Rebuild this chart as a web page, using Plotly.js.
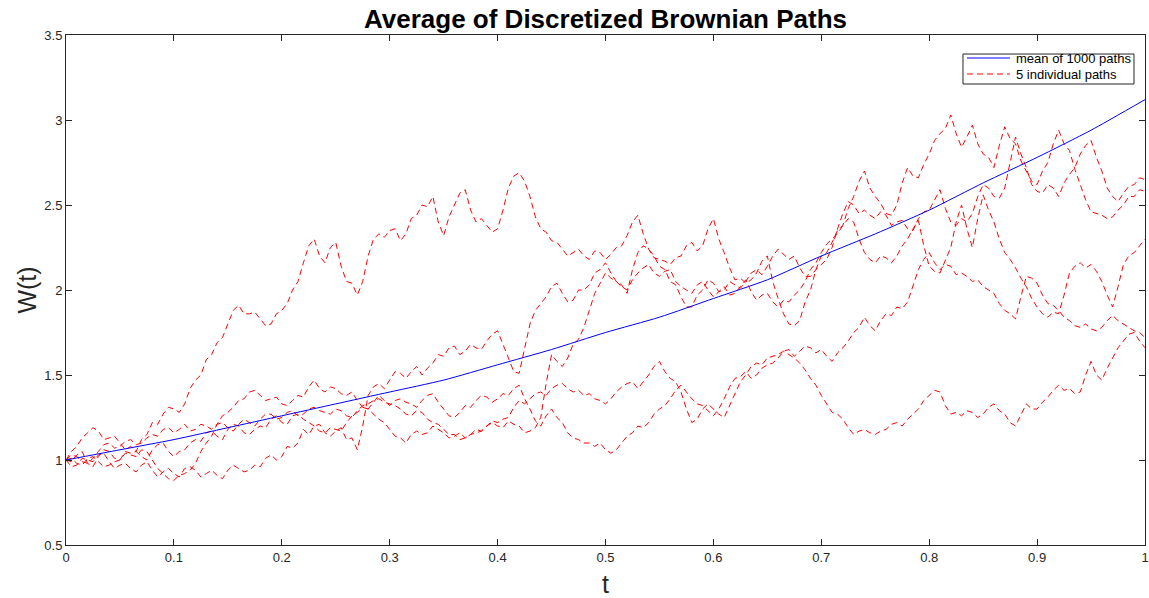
<!DOCTYPE html>
<html>
<head>
<meta charset="utf-8">
<script src="https://cdn.plot.ly/plotly-3.0.1.min.js"></script>
<style>
  html, body { margin: 0; padding: 0; background: #ffffff; }
  #chart { width: 1149px; height: 598px; }
</style>
</head>
<body>
<div id="chart"></div>
<script>
// Five individual Brownian paths W(t), sampled every 0.005 on [0, 1]
const pathA = [
  1.00,0.99,1.03,1.05,0.98,0.96,1.02,1.06,1.05,1.01,1.00,1.05,1.04,1.05,1.12,1.15,1.22,1.21,1.27,1.31,
  1.30,1.28,1.33,1.42,1.47,1.50,1.59,1.62,1.69,1.72,1.80,1.88,1.91,1.86,1.86,1.87,1.83,1.79,1.80,1.86,
  1.88,1.92,2.00,2.05,2.16,2.26,2.30,2.20,2.16,2.25,2.28,2.14,2.05,2.04,1.97,2.05,2.20,2.30,2.33,2.31,
  2.35,2.36,2.29,2.33,2.42,2.44,2.50,2.49,2.55,2.40,2.32,2.43,2.50,2.57,2.59,2.47,2.40,2.42,2.38,2.34,
  2.36,2.47,2.60,2.67,2.69,2.64,2.55,2.43,2.36,2.34,2.29,2.28,2.24,2.20,2.22,2.24,2.20,2.18,2.23,2.22,
  2.18,2.21,2.25,2.26,2.32,2.40,2.44,2.33,2.24,2.19,2.18,2.17,2.15,2.19,2.20,2.26,2.28,2.23,2.26,2.36,
  2.42,2.30,2.22,2.13,2.06,2.07,2.04,2.06,2.10,2.17,2.20,2.05,1.95,1.86,1.80,1.79,1.82,1.93,2.00,2.12,
  2.20,2.22,2.28,2.35,2.38,2.48,2.55,2.64,2.70,2.60,2.55,2.51,2.45,2.44,2.50,2.63,2.72,2.67,2.66,2.74,
  2.80,2.88,2.92,2.95,3.03,2.92,2.84,2.90,2.97,2.86,2.80,2.78,2.72,2.85,2.96,2.89,2.86,2.76,2.70,2.64,
  2.62,2.70,2.75,2.86,2.94,2.86,2.82,2.71,2.62,2.53,2.46,2.45,2.44,2.42,2.43,2.47,2.50,2.55,2.55,2.59,2.58
];
const pathB = [
  1.00,0.96,0.97,1.01,1.00,0.99,1.03,1.04,0.99,0.95,0.97,0.98,0.95,0.93,0.97,0.99,0.94,0.90,0.93,0.95,
  0.92,0.90,0.95,0.96,0.94,0.90,0.92,0.94,0.91,0.89,0.94,0.97,0.95,0.93,0.94,0.97,0.96,1.01,1.03,1.00,
  1.02,1.08,1.07,1.10,1.18,1.15,1.20,1.21,1.16,1.14,1.17,1.19,1.12,1.13,1.06,1.20,1.38,1.43,1.45,1.42,
  1.47,1.52,1.51,1.48,1.52,1.55,1.50,1.54,1.57,1.62,1.61,1.66,1.67,1.62,1.64,1.68,1.66,1.65,1.70,1.74,
  1.76,1.68,1.60,1.52,1.51,1.66,1.80,1.88,1.92,1.96,2.02,2.04,1.98,1.93,1.94,2.00,2.00,2.03,2.10,2.12,
  2.16,2.10,2.05,2.03,1.98,2.12,2.22,2.26,2.24,2.20,2.14,2.12,2.05,2.03,1.96,1.90,1.90,1.97,2.00,2.06,
  2.04,1.99,2.00,2.05,2.03,2.01,2.05,2.10,2.12,2.09,2.14,2.20,2.24,2.21,2.18,2.20,2.13,2.08,2.08,2.12,
  2.15,2.18,2.25,2.36,2.45,2.52,2.50,2.45,2.47,2.44,2.42,2.46,2.44,2.38,2.40,2.41,2.36,2.35,2.42,2.46,
  2.47,2.53,2.59,2.48,2.40,2.38,2.42,2.40,2.45,2.55,2.62,2.60,2.55,2.54,2.60,2.75,2.90,2.80,2.72,2.62,
  2.58,2.57,2.62,2.60,2.55,2.63,2.68,2.72,2.80,2.85,2.88,2.78,2.70,2.60,2.55,2.52,2.57,2.61,2.62,2.66,2.65
];
const pathC = [
  1.00,1.05,1.08,1.13,1.16,1.19,1.17,1.12,1.13,1.14,1.10,1.06,1.08,1.05,1.02,1.00,1.06,1.09,1.10,1.05,
  1.02,1.05,1.06,1.10,1.12,1.11,1.16,1.17,1.14,1.12,1.18,1.21,1.20,1.16,1.15,1.18,1.20,1.19,1.24,1.26,
  1.22,1.21,1.26,1.27,1.24,1.22,1.20,1.17,1.16,1.19,1.18,1.17,1.22,1.26,1.28,1.31,1.30,1.27,1.24,1.22,
  1.18,1.14,1.13,1.10,1.15,1.17,1.15,1.16,1.20,1.18,1.16,1.13,1.14,1.16,1.13,1.15,1.18,1.17,1.20,1.22,
  1.20,1.19,1.23,1.21,1.20,1.16,1.17,1.19,1.25,1.45,1.62,1.58,1.55,1.60,1.68,1.71,1.78,1.88,1.98,2.04,
  2.10,2.07,2.05,2.02,2.00,2.06,2.10,2.13,2.15,2.10,2.08,2.11,2.12,2.05,2.02,2.00,1.98,2.03,2.05,2.00,
  1.96,1.99,2.02,1.97,1.98,2.02,2.06,1.99,1.94,1.97,1.98,1.93,1.90,1.94,1.93,1.97,2.00,2.05,2.12,2.16,
  2.22,2.27,2.30,2.33,2.38,2.42,2.40,2.30,2.22,2.18,2.16,2.20,2.19,2.16,2.20,2.26,2.30,2.36,2.41,2.26,
  2.14,2.11,2.10,2.17,2.25,2.40,2.50,2.36,2.25,2.42,2.56,2.47,2.40,2.30,2.22,2.18,2.13,2.07,2.02,1.95,
  1.90,1.86,1.84,1.87,1.86,1.97,2.10,2.14,2.16,2.13,2.15,2.11,2.05,1.97,1.90,2.02,2.15,2.20,2.22,2.26,2.30
];
const pathD = [
  1.00,1.01,0.98,0.97,1.01,1.02,0.99,0.96,0.97,0.99,1.00,1.04,1.03,1.02,1.06,1.05,1.00,0.95,0.92,0.89,
  0.88,0.91,0.92,0.94,0.98,1.05,1.10,1.14,1.21,1.26,1.28,1.31,1.35,1.36,1.40,1.41,1.38,1.35,1.36,1.37,
  1.33,1.32,1.35,1.38,1.37,1.43,1.47,1.42,1.40,1.43,1.42,1.39,1.38,1.40,1.35,1.31,1.30,1.34,1.38,1.35,
  1.32,1.35,1.36,1.34,1.33,1.31,1.35,1.38,1.39,1.34,1.30,1.26,1.25,1.28,1.32,1.31,1.35,1.38,1.37,1.34,
  1.36,1.39,1.38,1.42,1.44,1.36,1.30,1.23,1.20,1.26,1.30,1.25,1.22,1.16,1.13,1.12,1.10,1.10,1.08,1.10,
  1.06,1.04,1.06,1.10,1.14,1.16,1.20,1.19,1.22,1.27,1.30,1.32,1.36,1.41,1.44,1.40,1.36,1.33,1.32,1.29,
  1.26,1.30,1.36,1.43,1.48,1.49,1.52,1.48,1.50,1.54,1.56,1.57,1.60,1.64,1.65,1.61,1.64,1.67,1.66,1.63,
  1.65,1.61,1.58,1.63,1.66,1.70,1.75,1.78,1.84,1.79,1.76,1.82,1.86,1.85,1.90,1.89,1.93,2.02,2.12,2.18,
  2.22,2.16,2.12,2.15,2.14,2.09,2.10,2.08,2.05,2.06,2.02,2.00,1.98,1.92,1.88,1.86,1.83,1.96,2.08,2.07,
  2.04,1.97,1.92,1.91,1.88,1.84,1.82,1.79,1.78,1.80,1.77,1.76,1.78,1.82,1.85,1.82,1.80,1.78,1.76,1.75,1.72
];
const pathE = [
  1.00,1.03,1.02,0.99,0.98,1.01,1.05,1.09,1.10,1.07,1.08,1.11,1.12,1.09,1.10,1.13,1.15,1.14,1.18,1.19,
  1.16,1.18,1.21,1.17,1.18,1.21,1.20,1.18,1.21,1.22,1.19,1.17,1.21,1.24,1.22,1.20,1.24,1.27,1.27,1.24,
  1.25,1.28,1.29,1.26,1.27,1.30,1.31,1.29,1.28,1.27,1.30,1.29,1.26,1.25,1.29,1.32,1.33,1.35,1.36,1.34,
  1.33,1.32,1.30,1.27,1.26,1.29,1.28,1.24,1.22,1.21,1.18,1.15,1.15,1.12,1.13,1.15,1.16,1.17,1.20,1.23,
  1.22,1.24,1.25,1.31,1.35,1.33,1.36,1.39,1.40,1.38,1.42,1.44,1.45,1.42,1.40,1.41,1.38,1.39,1.36,1.35,
  1.33,1.36,1.40,1.43,1.45,1.46,1.42,1.46,1.50,1.55,1.58,1.52,1.48,1.46,1.40,1.30,1.22,1.24,1.30,1.33,
  1.30,1.27,1.25,1.32,1.40,1.46,1.50,1.55,1.57,1.56,1.60,1.61,1.62,1.64,1.62,1.60,1.57,1.53,1.48,1.44,
  1.38,1.33,1.28,1.27,1.24,1.19,1.15,1.17,1.18,1.16,1.15,1.17,1.18,1.21,1.22,1.20,1.24,1.27,1.30,1.35,
  1.38,1.41,1.40,1.32,1.27,1.28,1.26,1.29,1.28,1.25,1.27,1.31,1.33,1.29,1.27,1.22,1.20,1.27,1.33,1.30,
  1.30,1.34,1.37,1.41,1.44,1.41,1.42,1.39,1.40,1.50,1.58,1.50,1.47,1.54,1.60,1.66,1.70,1.74,1.75,1.70,1.66
];
const paths = [pathA, pathB, pathC, pathD, pathE];

// Mean of 1000 paths, sampled every 0.05
const tMean = [0, 0.05, 0.1, 0.15, 0.2, 0.25, 0.3, 0.35, 0.4, 0.45, 0.5,
               0.55, 0.6, 0.65, 0.7, 0.75, 0.8, 0.85, 0.9, 0.95, 1];
const meanPath = [1.00, 1.06, 1.12, 1.19, 1.26, 1.33, 1.40, 1.47, 1.56, 1.65, 1.75,
                  1.84, 1.95, 2.06, 2.20, 2.33, 2.47, 2.63, 2.78, 2.94, 3.12];

const xTicks = [0, 0.1, 0.2, 0.3, 0.4, 0.5, 0.6, 0.7, 0.8, 0.9, 1];
const yTicks = [0.5, 1, 1.5, 2, 2.5, 3, 3.5];

const legendMean = 'mean of 1000 paths';
const legendPaths = '5 individual paths';
const chartTitle = 'Average of Discretized Brownian Paths';

const FONT = 'Liberation Sans, Arial, Helvetica, sans-serif';
const AXIS_COLOR = '#262626';
const RED = '#ff0000';
const BLUE = '#0000ff';
const RED_DASH = '6px,4px';

// time grid of each path: evenly spaced on [0, 1]
const timeGrid = p => p.map((_, i) => i / (p.length - 1));

const traces = paths.map(p => ({
  x: timeGrid(p),
  y: p,
  type: 'scatter',
  mode: 'lines',
  name: legendPaths,
  showlegend: false,
  line: { color: RED, width: 1, dash: RED_DASH },
  hoverinfo: 'skip'
}));

traces.push({
  x: tMean,
  y: meanPath,
  type: 'scatter',
  mode: 'lines',
  name: legendMean,
  showlegend: false,
  line: { color: BLUE, width: 1, shape: 'spline', smoothing: 0.6 },
  hoverinfo: 'skip'
});

// Boxed key in the upper right corner of the axes (paper coordinates)
const key = { x0: 0.8313, x1: 0.9898, y0: 0.9039, y1: 0.9627,
              lineX0: 0.8350, lineX1: 0.8749, textX: 0.8786,
              rowY: [0.9549, 0.9235] };
const keyEntries = [
  { text: legendMean, color: BLUE, dash: 'solid' },
  { text: legendPaths, color: RED, dash: RED_DASH }
];

const shapes = [{
  type: 'rect', xref: 'paper', yref: 'paper', layer: 'above',
  x0: key.x0, x1: key.x1, y0: key.y0, y1: key.y1,
  line: { color: AXIS_COLOR, width: 1 }, fillcolor: '#ffffff'
}];
const annotations = [];
keyEntries.forEach((e, i) => {
  shapes.push({
    type: 'line', xref: 'paper', yref: 'paper', layer: 'above',
    x0: key.lineX0, x1: key.lineX1, y0: key.rowY[i], y1: key.rowY[i],
    line: { color: e.color, width: 1, dash: e.dash }
  });
  annotations.push({
    xref: 'paper', yref: 'paper', x: key.textX, y: key.rowY[i],
    xanchor: 'left', yanchor: 'middle', showarrow: false,
    text: e.text, font: { family: FONT, size: 13, color: '#000000' }
  });
});

const axisBase = {
  showgrid: false,
  zeroline: false,
  showline: true,
  mirror: 'ticks',
  linecolor: AXIS_COLOR,
  linewidth: 1,
  ticks: 'inside',
  ticklen: 6,
  tickwidth: 1,
  tickcolor: AXIS_COLOR,
  tickfont: { family: FONT, size: 13, color: AXIS_COLOR }
};

const layout = {
  width: 1149,
  height: 598,
  margin: { l: 66, r: 4, t: 35, b: 53 },
  paper_bgcolor: '#ffffff',
  plot_bgcolor: '#ffffff',
  font: { family: FONT, color: AXIS_COLOR },
  showlegend: false,
  title: {
    text: '<b>' + chartTitle + '</b>',
    font: { family: FONT, size: 26, color: '#000000' },
    xref: 'paper', x: 0.5, xanchor: 'center',
    yref: 'container', y: 0.968, yanchor: 'middle'
  },
  xaxis: Object.assign({}, axisBase, {
    range: [0, 1],
    tickvals: xTicks,
    ticktext: xTicks.map(String),
    title: { text: 't', font: { family: FONT, size: 25, color: AXIS_COLOR }, standoff: 21 }
  }),
  yaxis: Object.assign({}, axisBase, {
    range: [0.5, 3.5],
    tickvals: yTicks,
    ticktext: yTicks.map(String),
    title: { text: 'W(t)', font: { family: FONT, size: 25, color: AXIS_COLOR }, standoff: 0 }
  }),
  shapes: shapes,
  annotations: annotations
};

Plotly.newPlot('chart', traces, layout, { displayModeBar: false, staticPlot: true });
</script>
</body>
</html>
